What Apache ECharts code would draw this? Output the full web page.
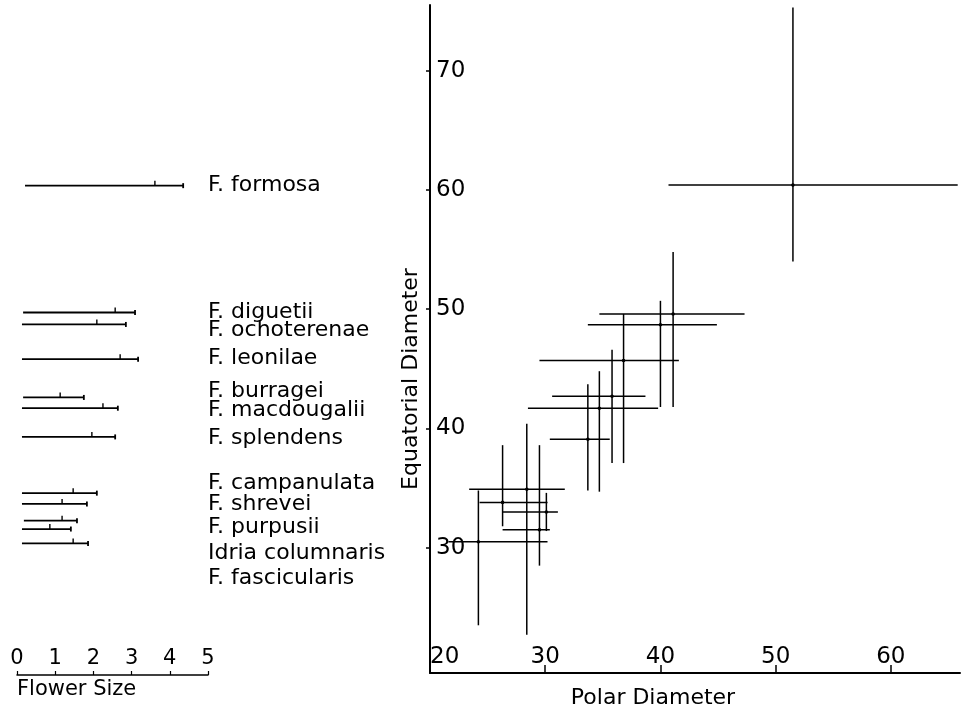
<!DOCTYPE html>
<html>
<head>
<meta charset="utf-8">
<script src="https://cdn.jsdelivr.net/npm/echarts@6/dist/echarts.min.js"></script>
<style>html,body{margin:0;padding:0;background:#fff}#c{width:963px;height:714px}</style>
</head>
<body>
<div id="c"></div>
<script>
// ---------- data ----------
const species = ['F. formosa','F. diguetii','F. ochoterenae','F. leonilae','F. burragei','F. macdougalii',
  'F. splendens','F. campanulata','F. shrevei','F. purpusii','Idria columnaris','F. fascicularis'];
// Polar diameter: mean, min, max
const polarMean = [51.5, 41.1, 40.0, 36.8, 35.8, 34.7, 33.7, 28.4, 26.3, 30.1, 29.5, 24.2];
const polarMin  = [40.7, 34.7, 33.7, 29.5, 30.6, 28.5, 30.4, 23.4, 24.3, 26.3, 26.3, 21.6];
const polarMax  = [65.8, 47.3, 44.9, 41.6, 38.7, 39.8, 35.6, 31.7, 30.2, 31.1, 30.4, 30.2];
// Equatorial diameter: mean, min, max
const eqMean = [60.4, 49.6, 48.7, 45.7, 42.7, 41.7, 39.1, 34.9, 33.8, 33.0, 31.5, 30.5];
const eqMin  = [54.0, 41.8, 41.8, 37.1, 37.1, 34.7, 34.8, 22.7, 31.8, 31.4, 28.5, 23.5];
const eqMax  = [75.3, 54.8, 50.7, 49.6, 46.6, 44.8, 43.7, 40.4, 38.6, 34.6, 38.6, 34.8];
// Flower size: min, mean, max, and equatorial level at which each bar is drawn
const flowerMin  = [0.21, 0.16, 0.13, 0.13, 0.16, 0.13, 0.13, 0.13, 0.13, 0.18, 0.13, 0.13];
const flowerMean = [3.61, 2.57, 2.09, 2.70, 1.13, 2.25, 1.96, 1.47, 1.18, 1.18, 0.86, 1.47];
const flowerMax  = [4.35, 3.09, 2.85, 3.17, 1.75, 2.64, 2.57, 2.09, 1.83, 1.57, 1.41, 1.86];
const flowerRowEq = [60.4, 49.8, 48.8, 45.9, 42.7, 41.8, 39.4, 34.7, 33.8, 32.4, 31.7, 30.5];
// Tick labels
const polarTicks = [20, 30, 40, 50, 60];
const eqTicks = [30, 40, 50, 60, 70];
const flowerTicks = [0, 1, 2, 3, 4, 5];

// ---------- layout (not data) ----------
const labelAnchorEq = [60.4, 49.85, 48.35, 46.0, 43.25, 41.66, 39.32, 35.55, 33.8, 31.87, 29.7, 27.61];
const FONT = 'DejaVu Sans';
const INK = '#000';

const crossData = species.map((s, i) => [polarMean[i], eqMean[i], polarMin[i], polarMax[i], eqMin[i], eqMax[i]]);
const flowerData = species.map((s, i) => [flowerMin[i], flowerRowEq[i], flowerMax[i], flowerMean[i]]);
const labelData = species.map((s, i) => ({ value: [5, labelAnchorEq[i]], name: s }));

const chart = echarts.init(document.getElementById('c'));
chart.setOption({
  backgroundColor: '#fff',
  animation: false,
  grid: [
    { left: 17, width: 191, top: 5, bottom: 39 },
    { left: 430, right: 3, top: 5, bottom: 39 }
  ],
  xAxis: [
    {
      gridIndex: 0, type: 'value', min: 0, max: 5, interval: 1,
      axisLine: { lineStyle: { color: INK, width: 1.5 } },
      axisTick: { inside: true, length: 4, lineStyle: { color: INK, width: 1.2 } },
      axisLabel: { inside: true, margin: 6, color: INK, fontFamily: FONT, fontSize: 21,
        customValues: flowerTicks },
      splitLine: { show: false },
      name: 'Flower Size', nameLocation: 'start', nameGap: 0,
      nameTextStyle: { color: INK, fontFamily: FONT, fontSize: 21, align: 'left', verticalAlign: 'top',
        padding: [4, 0, 0, 0] }
    },
    {
      gridIndex: 1, type: 'value', min: 20, max: 66, interval: 10,
      axisLine: { onZero: false, lineStyle: { color: INK, width: 2 } },
      axisTick: { inside: true, length: 8, lineStyle: { color: INK, width: 1.5 }, customValues: polarTicks },
      axisLabel: { inside: true, margin: 4, color: INK, fontFamily: FONT, fontSize: 23,
        customValues: polarTicks, alignMinLabel: 'left' },
      splitLine: { show: false },
      name: 'Polar Diameter', nameLocation: 'middle', nameGap: 14,
      nameTextStyle: { color: INK, fontFamily: FONT, fontSize: 22, verticalAlign: 'top', padding: [0, 84, 0, 0] }
    }
  ],
  yAxis: [
    { gridIndex: 0, type: 'value', min: 19.5, max: 75.5, show: false },
    {
      gridIndex: 1, type: 'value', min: 19.5, max: 75.5,
      axisLine: { onZero: false, lineStyle: { color: INK, width: 2 } },
      axisTick: { length: 4, lineStyle: { color: INK, width: 1.5 }, customValues: eqTicks },
      axisLabel: { inside: true, margin: 6, color: INK, fontFamily: FONT, fontSize: 23, customValues: eqTicks },
      splitLine: { show: false },
      name: 'Equatorial Diameter', nameLocation: 'middle', nameRotate: 90, nameGap: 8,
      nameTextStyle: { color: INK, fontFamily: FONT, fontSize: 22, padding: [0, 80, 0, 0] }
    }
  ],
  series: [
    {
      type: 'custom', xAxisIndex: 0, yAxisIndex: 0, clip: false,
      data: flowerData,
      renderItem: function (params, api) {
        const a = api.coord([api.value(0), api.value(1)]);
        const b = api.coord([api.value(2), api.value(1)]);
        const m = api.coord([api.value(3), api.value(1)]);
        const st = { stroke: INK, lineWidth: 1.8 };
        return { type: 'group', children: [
          { type: 'line', shape: { x1: a[0], y1: a[1], x2: b[0], y2: b[1] }, style: st },
          { type: 'line', shape: { x1: b[0], y1: b[1] - 2.5, x2: b[0], y2: b[1] + 2.5 }, style: st },
          { type: 'line', shape: { x1: m[0], y1: m[1] - 5, x2: m[0], y2: m[1] }, style: { stroke: INK, lineWidth: 1.4 } }
        ] };
      }
    },
    {
      type: 'scatter', xAxisIndex: 0, yAxisIndex: 0, clip: false,
      symbolSize: 0, data: labelData, itemStyle: { opacity: 1 },
      label: { show: true, position: 'right', distance: 0, formatter: '{b}',
        color: INK, fontFamily: FONT, fontSize: 22 }
    },
    {
      type: 'custom', xAxisIndex: 1, yAxisIndex: 1, clip: false,
      data: crossData,
      renderItem: function (params, api) {
        const c = api.coord([api.value(0), api.value(1)]);
        const l = api.coord([api.value(2), api.value(1)]);
        const r = api.coord([api.value(3), api.value(1)]);
        const b = api.coord([api.value(0), api.value(4)]);
        const t = api.coord([api.value(0), api.value(5)]);
        const st = { stroke: INK, lineWidth: 1.5 };
        return { type: 'group', children: [
          { type: 'line', shape: { x1: l[0], y1: l[1], x2: r[0], y2: r[1] }, style: st },
          { type: 'line', shape: { x1: b[0], y1: b[1], x2: t[0], y2: t[1] }, style: st },
          { type: 'circle', shape: { cx: c[0], cy: c[1], r: 1.8 }, style: { fill: INK } }
        ] };
      }
    }
  ]
});
</script>
</body>
</html>
